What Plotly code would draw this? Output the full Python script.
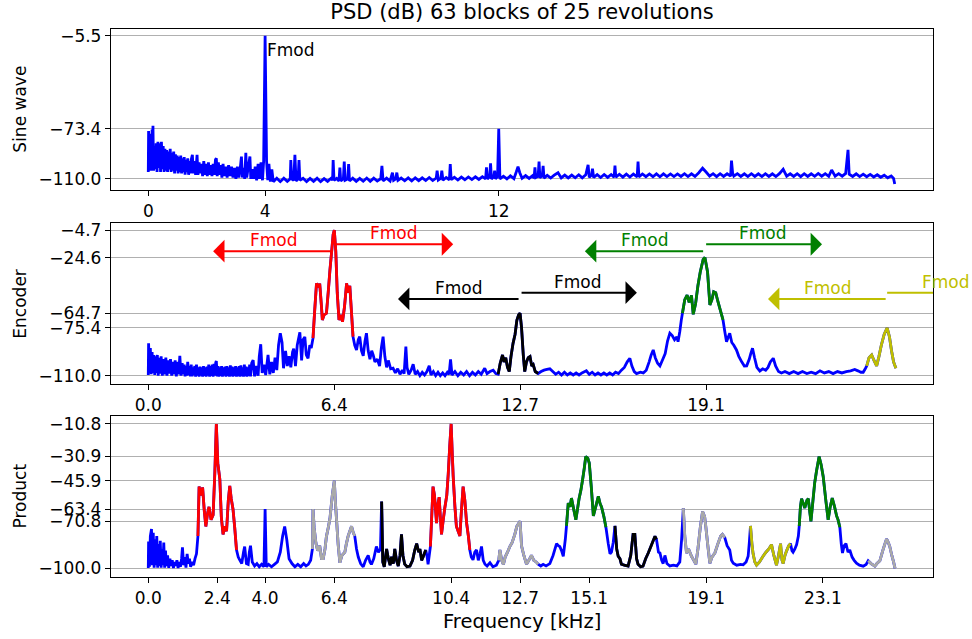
import plotly.graph_objects as go

# ---------------- data ----------------
SINE_F = [0.00,0.01,0.03,0.05,0.07,0.09,0.11,0.13,0.15,0.16,0.18,0.21,0.24,0.27,0.30,0.33,0.36,0.39,0.42,0.45,0.48,0.51,0.54,0.57,0.60,0.63,0.66,0.69,0.72,0.75,0.78,0.81,0.84,0.87,0.90,0.93,0.96,0.99,1.02,1.05,1.08,1.11,1.14,1.17,1.20,1.23,1.26,1.29,1.32,1.35,1.38,1.41,1.44,1.47,1.51,1.54,1.58,1.62,1.67,1.70,1.74,1.78,1.82,1.86,1.90,1.94,1.98,2.02,2.06,2.10,2.14,2.18,2.22,2.26,2.30,2.33,2.36,2.40,2.44,2.48,2.52,2.56,2.60,2.65,2.70,2.75,2.80,2.85,2.90,2.95,3.00,3.05,3.10,3.15,3.19,3.22,3.27,3.30,3.34,3.37,3.42,3.48,3.51,3.56,3.61,3.66,3.71,3.76,3.81,3.86,3.91,3.95,4.00,4.05,4.09,4.13,4.18,4.23,
          4.28,4.40,4.52,4.64,4.76,4.86,4.88,4.91,4.98,5.02,5.06,5.13,5.16,5.19,5.30,5.42,5.54,5.66,5.78,5.90,6.02,6.14,6.26,6.31,6.33,6.36,6.45,6.53,6.56,6.59,6.68,6.71,6.74,6.83,6.86,6.89,7.00,7.12,7.24,7.36,7.48,7.60,7.72,7.84,7.96,8.00,8.04,8.16,8.28,8.36,8.40,8.47,8.51,8.55,8.66,8.78,8.90,9.02,9.14,9.26,9.38,9.50,9.62,9.74,9.86,9.89,9.93,10.02,10.05,10.09,10.20,10.31,10.34,10.37,10.48,10.60,10.72,10.84,10.96,11.08,11.20,11.32,11.44,11.55,11.58,11.61,11.69,11.72,11.75,11.83,11.86,11.89,11.96,12.00,12.04,12.16,12.28,12.40,12.52,12.60,12.66,12.72,12.80,12.92,13.04,13.16,13.21,13.24,13.27,13.35,13.38,13.41,13.49,13.52,13.55,13.66,13.78,13.90,14.03,14.14,14.26,14.38,14.50,14.62,14.74,14.86,14.98,15.06,15.10,15.18,15.21,15.25,15.37,15.49,15.61,15.73,15.85,15.95,15.98,16.01,16.13,16.25,16.37,16.49,16.61,16.74,16.77,16.80,16.92,17.04,17.16,17.28,17.40,17.52,17.64,17.76,17.88,18.00,18.12,18.24,18.36,18.48,18.60,18.72,18.85,18.98,19.10,19.22,19.34,19.46,19.58,19.70,19.82,19.94,19.97,20.01,20.05,20.17,20.29,20.41,20.53,20.65,20.77,20.89,21.01,21.13,21.25,21.37,21.49,21.61,21.74,21.86,21.98,22.10,22.22,22.34,22.46,22.58,22.70,22.82,22.94,23.06,23.18,23.30,23.40,23.52,23.64,23.76,23.88,23.96,24.00,24.12,24.24,24.36,24.48,24.60,24.72,24.84,24.96,25.08,25.20,25.32,25.44,25.52,25.56]
SINE_DB = [-105,-75,-104,-78,-103,-77,-104,-74,-103,-71.3,-104,-86,-103,-84,-105,-83,-102,-84,-105,-83,-103,-86,-105,-88,-104,-89,-105,-90,-103,-88,-105,-91,-104,-90,-106,-92,-104,-93,-106,-94,-105,-93,-106,-95,-105,-94,-107,-96,-105,-95,-107,-97,-106,-96,-92.5,-106,-97,-107,-92.5,-107,-98,-106,-99,-108,-97,-107,-99,-108,-98,-107,-100,-108,-99,-107,-96,-95,-108,-98,-107,-100,-109,-99,-108,-101,-109,-100,-108,-101,-109,-102,-110,-101,-109,-102,-93.7,-109,-102,-110,-91,-109,-102,-93.7,-110,-103,-110,-101,-111,-99,-110,-98,-111,-97,-5.5,-97,-111,-99,-112,-103,
           -112,-109.5,-112,-109.5,-111.8,-110,-96.2,-110,-111,-92.5,-111.5,-110,-96.2,-111,-109.5,-112,-109.6,-111.8,-109.5,-112,-109.8,-111.8,-109.5,-111,-96.2,-111,-109.6,-111.5,-101.8,-111.5,-110,-97.4,-111,-110,-99.1,-111.5,-109.5,-111.8,-109.6,-111.7,-109.4,-111.8,-109.5,-111.6,-109.8,-100.5,-111.5,-109.4,-111.5,-105.4,-111,-110,-105.4,-111,-109.4,-111.4,-109.3,-111.5,-109.2,-111.3,-109.2,-111.2,-109,-111.2,-109.4,-104,-110.8,-109.5,-104,-111,-109,-110.6,-99.1,-110.5,-108.8,-110.8,-108.7,-110.6,-108.6,-110.5,-108.5,-110.4,-108.4,-110,-101.5,-110,-108.4,-98.6,-110,-108.5,-104,-110,-108.3,-73.4,-110,-108,-110,-107.8,-109.8,-105,-101,-105.5,-109.6,-107.6,-109.6,-107.6,-109.5,-101.5,-109,-108,-97.4,-109.2,-107.6,-100.5,-109.4,-107.4,-109.4,-107.3,-105.5,-109.3,-107.2,-109.3,-107.2,-109.2,-107,-109.2,-107,-99.8,-108.8,-107.2,-102.5,-109,-106.9,-109,-106.8,-108.9,-106.8,-108.8,-100.3,-108.8,-106.6,-108.7,-106.5,-108.6,-106.5,-108.5,-97.4,-108.5,-106.4,-108.4,-106.4,-108.4,-106.3,-108.4,-106.3,-108.3,-106.4,-108.3,-106.4,-108.2,-106.2,-108.3,-106.3,-108.2,-105.5,-102.2,-105,-108,-106.2,-108.3,-106.2,-108.2,-106.3,-108,-96.7,-106,-108,-106.2,-108.2,-106.3,-108.3,-106.2,-108.2,-106.3,-108.3,-106.2,-108.2,-106.3,-108.3,-106.2,-103,-108,-106.3,-108.2,-106.2,-108.3,-106.2,-108.2,-106.3,-108.1,-106,-108,-106.2,-108.1,-103.5,-108,-106.2,-108,-106,-88.8,-106.5,-108.2,-106.3,-108.3,-106.5,-108.4,-106.7,-108.6,-107,-108.8,-107.3,-109.2,-107.8,-109.6,-113.7]

ENC_F = [0.00,0.01,0.04,0.07,0.10,0.13,0.16,0.19,0.22,0.25,0.28,0.31,0.34,0.37,0.40,0.44,0.48,0.52,0.56,0.60,0.64,0.68,0.72,0.76,0.80,0.84,0.88,0.92,0.96,1.00,1.04,1.08,1.12,1.16,
         1.20,1.23,1.26,1.29,1.32,1.35,1.38,1.41,1.44,1.47,1.50,1.53,1.56,1.59,1.62,1.65,1.68,1.71,1.74,1.77,1.80,1.83,1.86,1.89,1.92,1.95,1.98,2.01,2.04,2.07,2.10,2.13,2.16,2.19,2.22,2.25,2.28,2.31,2.33,2.36,2.39,2.42,2.45,2.48,2.51,2.54,2.57,2.60,2.63,2.66,2.69,2.72,2.75,2.78,2.81,2.84,2.87,2.90,2.93,2.96,2.99,3.02,3.05,3.08,3.11,3.14,3.17,3.20,3.23,3.26,3.29,3.32,3.35,3.38,3.41,3.44,3.47,3.50,3.54,
         3.59,3.64,3.70,3.76,3.80,3.85,3.90,3.96,4.02,4.10,4.16,4.22,4.28,4.34,4.40,4.46,4.52,4.58,4.63,4.70,4.76,4.82,4.88,4.94,4.98,5.04,5.10,5.19,5.25,5.30,5.36,5.41,5.47,5.53,5.58,5.64,
         5.70,5.76,5.82,5.87,5.93,5.96,6.02,6.10,6.16,6.22,6.28,6.33,6.37,6.42,6.47,6.53,6.59,6.65,6.72,6.79,6.84,6.90,6.96,7.01,
         7.07,7.13,7.19,7.24,7.30,7.36,7.42,7.47,7.53,7.59,7.65,7.70,7.76,7.84,7.92,7.98,8.04,8.10,8.16,8.22,8.30,8.38,8.46,8.54,8.62,8.70,8.76,8.82,8.86,8.92,9.00,9.07,9.14,9.22,9.30,9.38,9.46,9.54,9.62,9.68,9.76,9.84,9.92,10.00,10.08,10.16,10.24,10.30,10.35,10.40,10.50,10.60,10.70,10.80,10.90,11.00,11.10,11.20,11.30,11.40,11.52,11.60,11.70,11.81,11.90,
         11.98,12.05,12.13,12.18,12.24,12.30,12.36,12.42,12.49,12.56,12.62,12.68,12.73,12.78,12.84,12.89,12.95,13.01,13.07,13.13,13.18,13.25,13.35,
         13.45,13.55,13.65,13.75,13.85,13.95,14.05,14.15,14.25,14.35,14.45,14.55,14.65,14.75,14.85,15.00,15.10,15.20,15.30,15.40,15.50,15.60,15.70,15.80,15.90,16.00,16.10,16.20,16.30,16.40,16.49,16.56,16.64,16.72,16.85,16.95,17.05,17.15,17.22,17.29,17.36,17.44,17.52,17.60,17.70,17.78,17.86,17.94,18.02,18.10,18.14,18.20,18.25,
         18.29,18.37,18.45,18.52,18.60,18.66,18.74,18.82,18.90,19.00,19.06,19.15,19.23,19.30,19.36,19.43,19.50,19.58,19.68,
         19.74,19.80,19.86,19.91,19.98,20.05,20.14,20.22,20.32,20.41,20.49,20.58,20.63,20.69,20.76,20.84,20.94,21.04,21.14,21.22,21.30,21.40,21.48,21.58,21.68,21.80,21.95,22.10,22.25,22.40,22.55,22.70,22.85,23.00,23.15,23.30,23.45,23.60,23.75,23.90,24.05,24.19,24.30,24.40,24.48,24.55,
         24.60,24.68,24.77,24.85,24.94,25.02,25.10,25.20,25.30,25.38,25.45,25.52,25.60]
ENC_DB = [-109.5,-86.6,-108,-90,-109,-93,-108,-95,-109.5,-96,-108,-95,-110,-97,-108.5,-96,-110,-98,-109,-97,-110,-99,-108.5,-98,-110,-100,-109,-99,-110.5,-100,-109,-95.7,-110,-101,
          -109,-102,-110.5,-103,-110,-100,-109.5,-103,-110.5,-102,-110.5,-104,-109.5,-103,-110.7,-102,-110,-104,-110.7,-103.5,-110,-104,-110.7,-103,-110.2,-104,-110.7,-103.5,-110,-102,-110.7,-103,-110.2,-102,-110.7,-101.5,-110,-100.5,-99.4,-110.5,-103,-110.7,-104,-110.2,-103,-110.7,-104,-110,-103.5,-110.7,-103,-110.2,-104,-110.7,-102.5,-110.3,-103.5,-110.7,-104,-110.2,-103,-110.7,-104,-110.3,-103,-110.7,-102.5,-110.3,-104,-110.7,-102,-110.3,-103.5,-110.7,-104,-110.2,-102,-110.5,-101,
          -98.7,-110.5,-103,-110,-96,-87.3,-108,-102,-109.5,-95,-109,-100,-108,-97,-106,-88,-79.3,-86,-104.6,-92,-103,-96,-104,-93,-90.4,-103,-88,-78.6,-99,-84,-82,-95,-97.4,-88,-90,-82.9,
          -62,-43.2,-46,-43.5,-60,-69.7,-66,-64.9,-50,-33.6,-20,-8,-4.7,-20,-50,-69.7,-66,-71,-60,-43.2,-50,-45,-65,-81.8,
          -88,-91.4,-84,-81.8,-92,-95.7,-85,-79.3,-92,-98,-92,-95,-100,-98,-103,-90,-81.8,-96,-104,-99,-105,-104.6,-108,-105,-109,-106,-108.5,-89,-104,-109,-106,-101.7,-109,-107,-110,-107.5,-109.5,-107,-102.9,-109.5,-107,-110,-107.5,-110,-108,-110,-107.5,-109,-98.2,-109.5,-107,-110,-107.5,-109.5,-107,-110,-107.5,-109.5,-107,-109,-104.6,-108.5,-107,-106,-108.5,
          -109,-101,-95,-100,-97,-104,-107,-96,-86.6,-80,-70,-66,-64.7,-75,-95,-107,-100,-97,-96.2,-103,-102,-107,-108.4,
          -107,-106,-105.5,-105,-107,-109,-107.5,-109.5,-107.5,-109.5,-108,-109.5,-108,-109.5,-108,-106.5,-109,-107.5,-109.5,-108,-109.5,-108,-109.5,-108,-109.5,-107.5,-108.5,-106,-104,-100,-97.4,-103,-107,-108.5,-107.5,-108,-106,-100,-95,-91.4,-97,-101,-102.9,-99,-94,-85,-79.3,-81,-84,-82,-85.4,-78,-70,
          -64.9,-55,-51.7,-57,-52,-65.6,-58,-45,-35,-26,-24.6,-35,-58.9,-55,-49.3,-50,-56,-62,-69.7,
          -78,-85.4,-82,-79.3,-86,-88,-91.4,-96,-100,-103,-102.9,-98,-94,-90.2,-97,-104,-106.6,-105,-106,-104,-100,-97.4,-103,-107,-108,-107,-108.5,-107,-108.5,-107,-108.5,-107.5,-108.5,-106.5,-108,-107,-108.5,-107,-108,-107,-106.5,-105.5,-106.5,-107.5,-107.5,-105,
          -102.9,-97,-95,-99,-102.9,-96,-88,-80,-75.4,-82,-92,-100,-104.6]

PROD_F = [0.00,0.01,0.04,0.07,0.11,0.14,0.17,0.20,0.23,0.26,0.29,0.32,0.35,0.38,0.41,0.44,0.47,0.50,0.53,0.56,0.59,0.62,0.66,0.70,0.74,0.78,0.82,0.86,0.90,0.94,0.98,1.02,1.06,1.10,1.14,1.17,1.21,1.25,1.29,1.33,1.37,1.41,1.45,1.50,1.55,1.60,1.65,
          1.70,1.74,1.80,1.86,1.92,1.97,2.03,2.08,2.15,2.22,2.28,2.33,2.38,2.45,2.50,2.56,2.62,2.68,2.74,2.79,2.84,2.90,2.96,3.02,
          3.08,3.13,3.20,3.26,3.30,3.36,3.42,3.46,3.50,3.56,3.64,3.72,3.80,3.88,3.96,4.00,4.04,4.12,4.22,4.32,4.42,4.52,4.60,4.67,4.74,4.82,4.92,5.02,5.12,5.22,5.32,5.40,5.48,5.56,
          5.62,5.64,5.68,5.74,5.80,5.87,5.93,5.99,6.05,6.10,6.16,6.22,6.30,6.37,6.41,6.45,6.50,6.56,6.63,6.73,6.78,6.84,6.90,6.96,7.02,7.07,
          7.13,7.19,7.27,7.36,7.44,7.53,7.59,7.64,7.72,7.81,7.88,7.95,
          7.99,8.03,8.08,8.16,8.22,8.28,8.33,8.39,8.44,8.50,8.56,8.62,8.67,8.72,8.78,8.86,8.96,9.05,9.12,9.19,9.26,9.30,9.36,9.41,9.47,9.50,
          9.55,9.58,9.62,
          9.66,9.70,9.75,9.80,9.87,9.92,9.96,10.00,10.04,10.10,10.15,10.22,10.27,10.32,10.37,10.41,10.44,10.50,10.55,10.61,10.67,10.72,10.78,10.84,10.90,10.96,11.01,
          11.06,11.12,11.18,11.24,11.30,11.36,11.41,11.47,11.53,11.60,11.70,11.80,11.92,
          12.00,12.04,12.10,12.16,12.22,12.30,12.38,12.46,12.55,12.62,12.73,12.78,12.86,12.95,13.03,13.12,13.20,13.28,13.35,
          13.44,13.52,13.62,13.75,13.86,13.98,14.04,14.09,14.15,14.21,14.28,
          14.32,14.38,14.44,14.49,14.55,14.64,14.70,14.75,14.81,14.87,14.93,14.98,15.05,15.10,15.17,15.24,15.32,15.41,15.47,15.52,15.60,15.67,
          15.75,15.81,15.86,15.92,
          15.98,16.04,16.09,16.15,16.20,16.30,16.43,16.52,16.60,16.66,16.72,16.77,16.86,16.94,17.03,17.12,17.22,17.35,17.40,
          17.47,17.52,17.58,17.63,17.69,17.76,17.86,17.98,18.10,18.20,18.26,
          18.32,18.37,18.43,18.50,18.60,18.68,18.75,18.82,18.90,18.98,19.05,19.09,19.16,19.23,19.30,19.40,19.50,19.60,19.66,19.74,
          19.82,19.91,19.97,20.03,20.15,20.28,20.37,20.47,20.54,20.58,
          20.62,20.67,20.71,20.77,20.83,20.93,21.05,21.15,21.25,21.34,21.42,21.51,21.58,21.65,21.70,21.74,21.80,21.86,21.93,21.99,
          22.04,22.08,22.14,22.20,22.26,
          22.29,22.33,22.37,22.43,22.48,22.55,22.60,22.65,22.69,22.76,22.82,22.88,22.97,23.04,23.11,23.20,23.28,23.35,23.42,23.50,23.57,23.62,23.68,
          23.73,23.77,23.83,23.89,23.96,24.02,24.10,24.17,24.25,24.35,24.48,24.58,
          24.65,24.75,24.88,24.95,25.05,25.15,25.22,25.28,25.34,25.39,25.46,25.52,25.57]
PROD_DB = [-99.8,-83.4,-99,-80,-75.7,-98,-78,-99.5,-82,-98,-80,-99.5,-85,-98.5,-83,-99.5,-88,-98,-84,-99.5,-89,-98.5,-92,-99.7,-94,-98.5,-95,-99.7,-96,-98.5,-95,-99.7,-96,-99,-94,-87,-98,-93,-99.5,-91,-97,-94,-99,-96,-98,-94,-91,
           -80,-49.5,-55,-50,-65,-74.1,-66,-62,-70,-67,-40,-10.8,-35,-45,-68,-79,-74,-77,-58,-49,-57,-63.3,-75,-88.5,
           -93,-94.7,-97,-90,-86.5,-97,-97.5,-90,-86,-96,-98.5,-97,-99,-97.5,-99,-63.4,-99,-97.5,-99,-97.5,-96,-90,-80,-74.1,-82,-94,-97,-99,-97.5,-99,-97,-98.5,-97.5,-95,
           -88,-63.4,-75,-84.4,-89,-86,-94,-94,-88,-80.2,-75,-69.2,-55,-45.9,-60,-71,-85,-96.5,-92,-90,-85,-80.2,-77,-74,-78,-80,
           -88,-93,-97,-99,-95,-92,-96,-97.5,-94,-86.5,-90,-88,
           -58.7,-96,-99,-88,-94,-98,-92.8,-97,-88,-95,-98.6,-92,-79,-92,-97.4,-99,-98.6,-95,-89,-84.7,-90,-88,-95,-93,-90,-88.6,
           -93,-97.4,-92,
           -86.5,-70,-49.5,-55,-72,-60,-56,-68,-79,-70,-63,-55,-42,-25,-10.8,-30,-43,-62,-74,-77,-80,-65,-49.5,-58,-72,-80,-88.6,
           -93,-94.7,-90,-88.6,-95,-91,-86.5,-95,-97.4,-98.5,-96.5,-99,-98,
           -95,-88.6,-95,-97.5,-93,-90,-86.5,-84,-79,-74,-70.8,-86,-92,-97.4,-95,-92,-95,-96,-97.4,
           -98.5,-97.5,-98.5,-97,-92,-84.7,-86,-86.5,-89,-92.5,-82,
           -73.8,-59.7,-62,-56.6,-62,-70,-63,-57,-52,-45.4,-38,-30.9,-32,-35,-50,-67.6,-62,-55.5,-60,-62,-68,-74.6,
           -84.7,-91,-90,-84,
           -73.8,-88,-92.5,-94,-97.4,-98,-98.6,-92,-79,-79,-94,-97.4,-99,-98.6,-94,-90.5,-86,-80.2,-82,
           -90,-90.5,-95,-97,-92,-97,-98.5,-98,-98.5,-96,-82.5,
           -62.8,-80,-90.5,-88,-92.5,-95,-97.4,-88,-75,-64.9,-68,-74,-86,-96.8,-93,-90.5,-85,-80,-79,-81,
           -86,-88.6,-95,-96.8,-98,-97.5,-97.8,-96,-92.5,-84,
           -73.8,-85,-91,-96,-98,-96,-92.5,-90,-88,-85.3,-92,-98,-92,-84.7,-95,-97,-92,-89,-86,-84.7,
           -89,-90,-88,-85.3,-80,
           -73.8,-62,-57,-60,-62.7,-58,-57,-65,-71,-58,-47,-40,-30.9,-36,-43.2,-58,-70,-62,-56.6,-62,-67.6,-70,-74.6,
           -85,-90.5,-86,-84.7,-90,-88.6,-93,-95,-96.8,-98,-98.6,-97.5,
           -95.3,-97,-98.6,-97,-95.3,-89,-85,-81.8,-84,-86.5,-92,-96,-100]

assert len(SINE_F) == len(SINE_DB)
assert len(ENC_F) == len(ENC_DB)
assert len(PROD_F) == len(PROD_DB)

# coloured frequency bands (kHz) drawn over the blue spectrum
ENC_BANDS = [("#ff0000", 5.64, 7.01), ("#000000", 11.98, 13.35),
             ("#008000", 18.29, 19.68), ("#bfbf00", 24.60, 25.60)]
PROD_BANDS = [("#ff0000", 1.70, 3.02), ("#ff0000", 9.66, 11.01),
              ("#a9a9a9", 5.62, 7.07), ("#a9a9a9", 12.00, 13.35),
              ("#a9a9a9", 18.32, 19.74), ("#a9a9a9", 24.65, 25.57),
              ("#000000", 7.99, 9.50), ("#000000", 15.98, 17.40),
              ("#008000", 14.32, 15.67), ("#008000", 22.29, 23.68),
              ("#bfbf00", 20.62, 21.99)]

SINE_TICKS = [0, 4, 12]
SINE_TICKTEXT = ["0", "4", "12"]
ENC_TICKS = [0, 6.366, 12.732, 19.099]
ENC_TICKTEXT = ["0.0", "6.4", "12.7", "19.1"]
PROD_TICKS = [0, 2.366, 4.0, 6.366, 10.366, 12.732, 15.099, 19.099, 23.099]
PROD_TICKTEXT = ["0.0", "2.4", "4.0", "6.4", "10.4", "12.7", "15.1", "19.1", "23.1"]
SINE_Y = [-5.5, -73.4, -110.0]
ENC_Y = [-4.7, -24.6, -64.7, -75.4, -110.0]
PROD_Y = [-10.8, -30.9, -45.9, -63.4, -70.8, -100.0]

# Fmod arrows on the encoder panel: (colour, tail kHz, left tip, right tip, left y, right y)
ARROWS = [("#ff0000", 6.37, 2.22, 10.44, -20.0, -15.0),
          ("#000000", 12.73, 8.55, 16.73, -54.5, -50.0),
          ("#008000", 19.05, 14.95, 23.07, -20.0, -15.0),
          ("#bfbf00", 25.30, 21.22, 29.30, -54.5, -50.0)]

FONT = "DejaVu Sans"
BLUE = "#0000ff"
LW = 2.8

fig = go.Figure()


def add_line(xs, ys, color, ax):
    fig.add_trace(go.Scatter(x=xs, y=ys, mode="lines",
                             line=dict(color=color, width=LW, simplify=False),
                             xaxis="x" + ax, yaxis="y" + ax,
                             hoverinfo="skip", showlegend=False))


add_line(SINE_F, SINE_DB, BLUE, "")
add_line(ENC_F, ENC_DB, BLUE, "2")
add_line(PROD_F, PROD_DB, BLUE, "3")
for col, a, b in ENC_BANDS:
    idx = [i for i, f in enumerate(ENC_F) if a - 1e-9 <= f <= b + 1e-9]
    add_line([ENC_F[i] for i in idx], [ENC_DB[i] for i in idx], col, "2")
for col, a, b in PROD_BANDS:
    idx = [i for i, f in enumerate(PROD_F) if a - 1e-9 <= f <= b + 1e-9]
    add_line([PROD_F[i] for i in idx], [PROD_DB[i] for i in idx], col, "3")

XR = [-1.277, 26.87]


def fmt(v):
    return ("\u2212" if v < 0 else "") + f"{abs(v):.1f}"


def xax(anchor, tv, tt):
    return dict(domain=[0, 1], anchor=anchor, range=XR, tickvals=tv, ticktext=tt,
                showgrid=False, zeroline=False, showline=True, mirror=True,
                linecolor="black", linewidth=1.3, ticks="outside", ticklen=5,
                tickwidth=1.2, tickcolor="black",
                tickfont=dict(family=FONT, size=17, color="black"))


def yax(anchor, dom, rng, tv):
    return dict(domain=dom, anchor=anchor, range=rng, tickvals=tv,
                ticktext=[fmt(v) for v in tv], showgrid=True, gridcolor="#b0b0b0",
                gridwidth=1.3, zeroline=False, showline=True, mirror=True,
                linecolor="black", linewidth=1.3, ticks="outside", ticklen=5,
                tickwidth=1.2, tickcolor="black",
                tickfont=dict(family=FONT, size=17, color="black"))


def to_paper_x(v):
    return (v - XR[0]) / (XR[1] - XR[0])


annotations = []
shapes = []
for col, tail, lt, rt, yl, yr in ARROWS:
    annotations.append(dict(x=lt, y=yl, ax=tail, ay=yl, xref="x2", yref="y2",
                            axref="x2", ayref="y2", text="", showarrow=True,
                            arrowhead=1, arrowsize=1.9, arrowwidth=2,
                            arrowcolor=col, standoff=0, startstandoff=0))
    if rt > XR[1]:
        shapes.append(dict(type="line", xref="x2", yref="y2", x0=tail, x1=XR[1],
                           y0=yr, y1=yr, line=dict(color=col, width=2)))
    else:
        annotations.append(dict(x=rt, y=yr, ax=tail, ay=yr, xref="x2", yref="y2",
                                axref="x2", ayref="y2", text="", showarrow=True,
                                arrowhead=1, arrowsize=1.9, arrowwidth=2,
                                arrowcolor=col, standoff=0, startstandoff=0))
    for xm, yv in [((tail + lt) / 2, yl), ((tail + rt) / 2, yr)]:
        annotations.append(dict(x=to_paper_x(xm), y=yv, xref="paper", yref="y2",
                                text="Fmod", showarrow=False, yshift=11,
                                xanchor="center", yanchor="middle",
                                font=dict(family=FONT, size=17, color=col)))

annotations.append(dict(x=4.0, y=-15.7, xref="x", yref="y", text="Fmod",
                        showarrow=False, xanchor="left", yanchor="middle",
                        font=dict(family=FONT, size=17, color="black")))

for label, yc in [("Sine wave", (1.0 + 0.7057) / 2), ("Encoder", (0.3522 + 0.6454) / 2),
                  ("Product", 0.2938 / 2)]:
    annotations.append(dict(x=-0.1107, y=yc, xref="paper", yref="paper", text=label,
                            textangle=-90, showarrow=False, xanchor="center",
                            yanchor="middle",
                            font=dict(family=FONT, size=17, color="black")))
annotations.append(dict(x=0.5, y=-0.0803, xref="paper", yref="paper",
                        text="Frequency [kHz]", showarrow=False, xanchor="center",
                        yanchor="middle", font=dict(family=FONT, size=19.5, color="black")))

fig.update_layout(
    width=972, height=639,
    margin=dict(l=111, r=39, t=29, b=62),
    paper_bgcolor="white", plot_bgcolor="white",
    title=dict(text="PSD (dB) 63 blocks of 25 revolutions", x=0.5, xref="paper",
               y=1 - 12 / 639, yref="container", xanchor="center", yanchor="middle",
               font=dict(family=FONT, size=21, color="black")),
    xaxis=xax("y", SINE_TICKS, SINE_TICKTEXT),
    yaxis=yax("x", [0.7057, 1.0], [-118.3, -0.6], SINE_Y),
    xaxis2=xax("y2", ENC_TICKS, ENC_TICKTEXT),
    yaxis2=yax("x2", [0.3522, 0.6454], [-116.0, 0.14], ENC_Y),
    xaxis3=xax("y3", PROD_TICKS, PROD_TICKTEXT),
    yaxis3=yax("x3", [0.0, 0.2938], [-105.3, -5.9], PROD_Y),
    annotations=annotations, shapes=shapes,
    showlegend=False, hovermode=False,
)

fig.write_html("out.html", config={"displayModeBar": False},
               post_script="document.body.style.margin='0px';document.body.style.overflow='hidden';")
